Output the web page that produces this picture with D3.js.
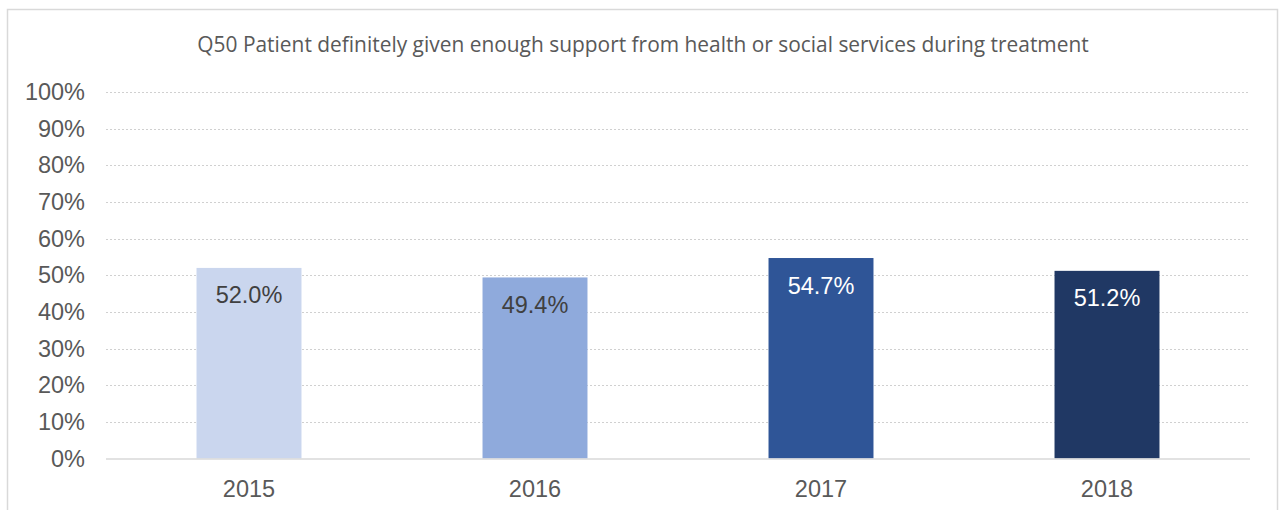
<!DOCTYPE html>
<html>
<head>
<meta charset="utf-8">
<script src="https://cdn.jsdelivr.net/npm/d3@7"></script>
<style>
  html, body { margin: 0; padding: 0; background: #fff; }
  svg { display: block; }
</style>
</head>
<body>
<script>
const title = 'Q50 Patient definitely given enough support from health or social services during treatment'
const years = ['2015', '2016', '2017', '2018']
const values = [52.0, 49.4, 54.7, 51.2]
const yTicks = [0, 10, 20, 30, 40, 50, 60, 70, 80, 90, 100]
const barColours = ['#cad6ee', '#8faadc', '#2f5597', '#203864']
const labelColours = ['#404040', '#404040', '#ffffff', '#ffffff']

const width = 1279
const height = 510
const plot = { left: 106, right: 1250, top: 92, bottom: 458.5 }
const fontSize = 23.5

const svg = d3.select('body').append('svg')
  .attr('width', width)
  .attr('height', height)

// chart frame
svg.append('rect')
  .attr('x', 7.5)
  .attr('y', 9.5)
  .attr('width', 1270)
  .attr('height', 520)
  .attr('fill', 'none')
  .attr('stroke', '#d9d9d9')
  .attr('stroke-width', 1.5)

const x = d3.scaleBand()
  .domain(years)
  .range([plot.left, plot.right])
  .paddingInner(0.633)
  .paddingOuter(0.3165)

const y = d3.scaleLinear()
  .domain([0, 100])
  .range([plot.bottom, plot.top])

// gridlines
svg.append('g')
  .selectAll('line')
  .data(yTicks.filter(d => d > 0))
  .enter()
  .append('line')
  .attr('x1', plot.left)
  .attr('x2', plot.right)
  .attr('y1', d => Math.round(y(d)) + 0.5)
  .attr('y2', d => Math.round(y(d)) + 0.5)
  .attr('stroke', '#d0d0d0')
  .attr('stroke-width', 1)
  .attr('stroke-dasharray', '2,2')

// y axis labels
const yAxis = svg.append('g')
  .attr('transform', `translate(${plot.left - 21},0)`)
  .call(d3.axisLeft(y).tickValues(yTicks).tickFormat(d => d + '%').tickSize(0).tickPadding(0))
yAxis.select('.domain').remove()
yAxis.selectAll('text')
  .attr('font-family', 'Liberation Sans, Arial, sans-serif')
  .attr('font-size', fontSize)
  .attr('fill', '#595959')

// bars
svg.append('g')
  .selectAll('rect')
  .data(values)
  .enter()
  .append('rect')
  .attr('x', (d, i) => x(years[i]))
  .attr('y', d => y(d))
  .attr('width', x.bandwidth())
  .attr('height', d => y(0) - y(d))
  .attr('fill', (d, i) => barColours[i])

// baseline
svg.append('line')
  .attr('x1', plot.left)
  .attr('x2', plot.right)
  .attr('y1', y(0) + 0.5)
  .attr('y2', y(0) + 0.5)
  .attr('stroke', '#d9d9d9')
  .attr('stroke-width', 1.5)

// value labels
svg.append('g')
  .selectAll('text')
  .data(values)
  .enter()
  .append('text')
  .attr('x', (d, i) => x(years[i]) + x.bandwidth() / 2)
  .attr('y', d => y(d) + 35.5)
  .attr('text-anchor', 'middle')
  .attr('font-family', 'Liberation Sans, Arial, sans-serif')
  .attr('font-size', fontSize)
  .attr('fill', (d, i) => labelColours[i])
  .text(d => d.toFixed(1) + '%')

// x axis labels
const xAxis = svg.append('g')
  .attr('transform', `translate(0,${plot.bottom})`)
  .call(d3.axisBottom(x).tickSize(0))
xAxis.select('.domain').remove()
xAxis.selectAll('text')
  .attr('y', 38)
  .attr('dy', null)
  .attr('font-family', 'Liberation Sans, Arial, sans-serif')
  .attr('font-size', fontSize)
  .attr('fill', '#595959')

// title, sized to the reference width
const titleText = svg.append('text')
  .attr('x', 643)
  .attr('y', 52)
  .attr('text-anchor', 'middle')
  .attr('font-family', 'Open Sans, sans-serif')
  .attr('font-size', 16)
  .attr('fill', '#595959')
  .text(title)
const len = titleText.node().getComputedTextLength()
titleText.attr('font-size', 16 * 892 / len)
</script>
</body>
</html>
